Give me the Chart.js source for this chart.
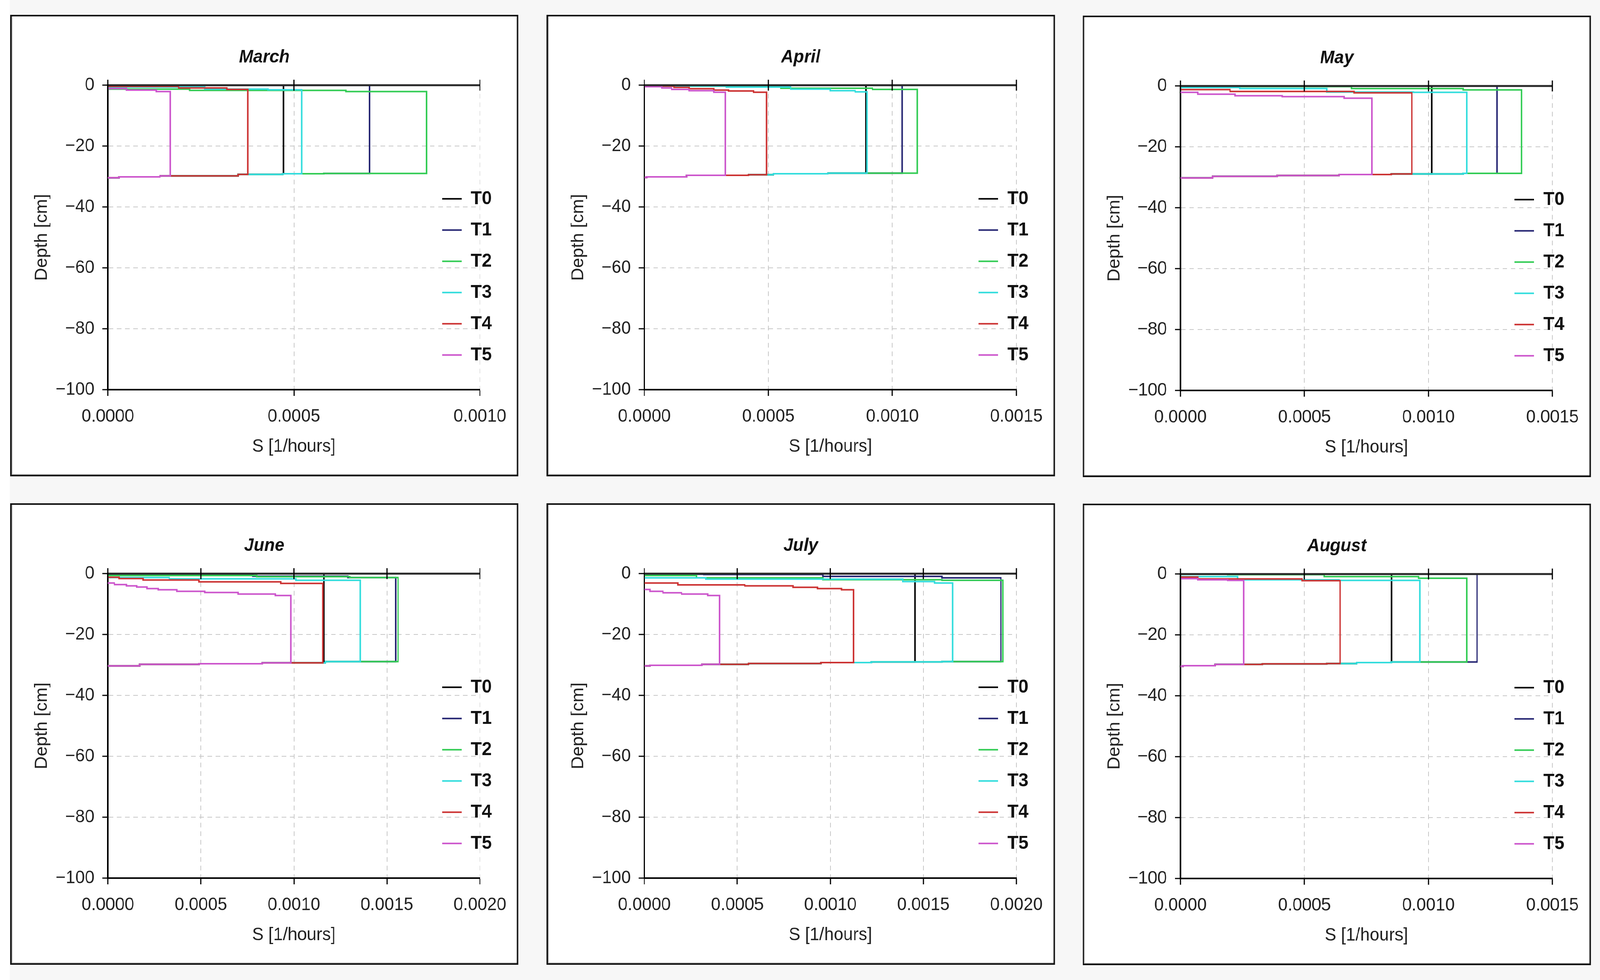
<!DOCTYPE html>
<html>
<head>
<meta charset="utf-8">
<script src="https://cdn.jsdelivr.net/npm/chart.js@4.4.1/dist/chart.umd.min.js"></script>
<style>
  html, body { margin: 0; padding: 0; overflow: hidden; background: #f7f7f7; }
  #page { position: relative; width: 4271px; height: 2510px; background: #f7f7f7; transform-origin: 0 0; }
  .strip { position: absolute; left: 0; top: 0; width: 26px; height: 2510px; background: #fff; }
  .panel { position: absolute; width: 1357px; height: 1182px; background: #fff; }
  .chartbox { position: absolute; left: 0; top: 0; width: 100%; height: 100%; }
  .frame { position: absolute; left: 0; top: 0; width: 100%; height: 100%; box-sizing: border-box;
           border: 4px solid #111; box-shadow: inset 2px -2px 0 #c4c4c4; pointer-events: none; }
</style>
</head>
<body>
<div id="page"><div class="strip"></div></div>
<script>
'use strict'

const months = ['March', 'April', 'May', 'June', 'July', 'August'];
const seriesNames = ['T0', 'T1', 'T2', 'T3', 'T4', 'T5'];
const seriesColors = ['#000000', '#262673', '#33cc55', '#33dddd', '#cc3333', '#cc55cc'];
const xMaxByMonth = [0.0010, 0.0015, 0.0015, 0.0020, 0.0020, 0.0015];
const xStep = 0.0005;
const yStep = 20;

// S at the lower edge of the root zone, per series
const marchS = [0.000472, 0.000703, 0.000857, 0.000521, 0.000376, 0.000168];
const aprilS = [0.000894, 0.00104, 0.0011, 0.000898, 0.000493, 0.000326];
const mayS = [0.001014, 0.001277, 0.001375, 0.001154, 0.000933, 0.000772];
const juneS = [0.001161, 0.001547, 0.00156, 0.001356, 0.001155, 0.000984];
const julyS = [0.001455, 0.001917, 0.001928, 0.001657, 0.001124, 0.000405];
const augustS = [0.000851, 0.001196, 0.001154, 0.000965, 0.000644, 0.000255];

// upper edge: [S, depth] steps from the surface outwards
const marchTop = [
	[[0, 0]],
	[[0, 0]],
	[[0, -1.3], [0.00022, -1.7], [0.00064, -2.1]],
	[[0, -0.6], [0.00026, -1.3], [0.00043, -1.5]],
	[[0, -0.4], [0.00019, -0.9], [0.00032, -1.4]],
	[[0, -1.1], [0.00005, -1.6], [0.00013, -2.1]],
];
const aprilTop = [
	[[0, 0]],
	[[0, 0]],
	[[0, -0.3], [0.00055, -1.0], [0.00092, -1.4]],
	[[0, -0.3], [0.00033, -0.6], [0.00059, -1.3], [0.00075, -1.8], [0.00085, -2.2]],
	[[0, -0.3], [0.00012, -0.7], [0.00018, -1.15], [0.00028, -1.6], [0.00034, -1.9], [0.00044, -2.3]],
	[[0, -0.5], [0.00007, -0.9], [0.00011, -1.4], [0.00018, -1.8], [0.00028, -2.3]],
];
const mayTop = [
	[[0, 0]],
	[[0, 0]],
	[[0, -0.2], [0.00069, -0.85], [0.00114, -1.3]],
	[[0, -0.5], [0.00024, -0.85], [0.00059, -2.0], [0.00094, -2.1]],
	[[0, -1.2], [0.0002, -1.8], [0.0007, -2.25]],
	[[0, -2.1], [0.00007, -2.7], [0.00022, -3.2], [0.00041, -3.5], [0.00066, -4.0]],
];
const juneTop = [
	[[0, 0]],
	[[0, -0.1], [0.00025, -0.2], [0.00078, -0.85], [0.00129, -1.3]],
	[[0, -0.6], [0.0008, -1.0], [0.0013, -1.3]],
	[[0, -1.3], [0.00033, -1.7], [0.00101, -2.2]],
	[[0, -1.2], [0.00006, -1.6], [0.00019, -2.1], [0.00049, -2.7], [0.00093, -3.2]],
	[[0, -3.1], [0.000035, -3.6], [0.0001, -4.0], [0.000155, -4.4], [0.00021, -4.9], [0.00027, -5.3],
	 [0.00037, -5.8], [0.00052, -6.2], [0.0007, -6.7], [0.0009, -7.2]],
];
const julyTop = [
	[[0, 0]],
	[[0, -0.2], [0.00032, -0.3], [0.00096, -0.9], [0.0016, -1.4]],
	[[0, -0.6], [0.00028, -1.4], [0.00096, -2.0], [0.0016, -2.2]],
	[[0, -1.4], [0.00033, -1.8], [0.00139, -2.6], [0.00156, -3.1]],
	[[0, -3.1], [0.00018, -3.7], [0.00054, -4.0], [0.0008, -4.5], [0.00093, -4.9], [0.00106, -5.3]],
	[[0, -5.2], [0.00003, -5.8], [0.0001, -6.3], [0.0002, -6.7], [0.00034, -7.2]],
];
const augustTop = [
	[[0, 0]],
	[[0, 0]],
	[[0, -0.1], [0.00019, -0.2], [0.00058, -0.85], [0.00096, -1.4]],
	[[0, -0.85], [0.00023, -1.9], [0.00064, -2.1]],
	[[0, -1.0], [0.00007, -1.6], [0.00049, -2.2]],
	[[0, -1.5], [0.00007, -1.9], [0.00019, -2.1]],
];

// lower edge shared by all series: [S, depth] steps going back to the axis
const marchBase = [[0.0010, -29.0], [0.00058, -29.1], [0.00047, -29.3], [0.00035, -29.8], [0.00014, -30.1], [0.00003, -30.4]];
const aprilBase = [[0.0015, -28.9], [0.00074, -29.1], [0.00052, -29.4], [0.00042, -29.6], [0.00017, -30.1], [0.00001, -30.3]];
const mayBase = [[0.0015, -28.7], [0.00114, -28.9], [0.00085, -29.1], [0.00064, -29.4], [0.00039, -29.7], [0.00013, -30.2]];
const juneBase = [[0.0020, -28.9], [0.00117, -29.3], [0.00083, -29.6], [0.00049, -29.8], [0.00017, -30.3]];
const julyBase = [[0.0020, -28.9], [0.0016, -29.0], [0.00122, -29.2], [0.00095, -29.5], [0.00056, -29.8], [0.00031, -30.1], [0.00003, -30.3]];
const augustBase = [[0.0015, -28.9], [0.00085, -29.1], [0.00071, -29.4], [0.00059, -29.5], [0.00033, -29.7], [0.00014, -30.1], [0.00001, -30.3]];

const monthS = [marchS, aprilS, mayS, juneS, julyS, augustS];
const monthTop = [marchTop, aprilTop, mayTop, juneTop, julyTop, augustTop];
const monthBase = [marchBase, aprilBase, mayBase, juneBase, julyBase, augustBase];

const panelLeft = [27, 1459, 2890, 27, 1459, 2890];
const panelTop = [38, 38, 40, 1289, 1289, 1290];

const FONT = "'Liberation Sans', Arial, sans-serif";
Chart.defaults.font.family = FONT;
Chart.defaults.color = '#222';

// the page is laid out at 4271 px; squeeze it into the window if that is narrower
const page = document.getElementById('page');
const fitX = Math.min(1, window.innerWidth / 4271);
page.style.transform = 'scaleX(' + fitX + ')';

function profile(top, s, base) {
	let pts = top.slice();
	pts.push([s, top[top.length - 1][1]]);
	let d = base[0][1];
	for (const b of base) if (b[0] >= s) d = b[1];
	pts.push([s, d]);
	for (const b of base) if (b[0] < s) pts.push(b);
	pts.push([0, pts[pts.length - 1][1]]);
	return pts.map(p => ({ x: p[0], y: p[1] }));
}

// black line along the surface with ticks crossing it
const zeroLine = {
	id: 'zeroLine',
	afterDatasetsDraw(chart) {
		const { ctx, chartArea, scales } = chart;
		const y0 = scales.y.getPixelForValue(0);
		ctx.save();
		ctx.strokeStyle = '#2a2a2a';
		ctx.lineWidth = 5;
		ctx.beginPath();
		ctx.moveTo(chartArea.left, y0);
		ctx.lineTo(chartArea.right, y0);
		ctx.stroke();
		ctx.strokeStyle = '#000';
		ctx.lineWidth = 3;
		scales.x.ticks.forEach(t => {
			const px = scales.x.getPixelForValue(t.value);
			ctx.beginPath();
			ctx.moveTo(px, y0 - 14);
			ctx.lineTo(px, y0 + 14);
			ctx.stroke();
		});
		ctx.restore();
	}
};

const insideLegend = {
	id: 'insideLegend',
	afterDraw(chart) {
		const { ctx, chartArea } = chart;
		ctx.save();
		ctx.font = 'bold 48px ' + FONT;
		ctx.textBaseline = 'middle';
		ctx.textAlign = 'left';
		chart.data.datasets.forEach((ds, i) => {
			const y = chartArea.top + 291 + i * 80;
			ctx.strokeStyle = ds.borderColor;
			ctx.lineWidth = 4;
			ctx.beginPath();
			ctx.moveTo(chartArea.right - 101, y);
			ctx.lineTo(chartArea.right - 49, y);
			ctx.stroke();
			ctx.fillStyle = '#111';
			ctx.fillText(ds.label, chartArea.right - 24, y + 1);
		});
		ctx.restore();
	}
};

let charts = [];

months.forEach((month, k) => {
	let panel = document.createElement('div');
	panel.className = 'panel';
	panel.style.left = panelLeft[k] + 'px';
	panel.style.top = panelTop[k] + 'px';
	let box = document.createElement('div');
	box.className = 'chartbox';
	let canvas = document.createElement('canvas');
	box.appendChild(canvas);
	panel.appendChild(box);
	let frame = document.createElement('div');
	frame.className = 'frame';
	panel.appendChild(frame);
	page.appendChild(panel);

	const datasets = seriesNames.map((name, i) => ({
		label: name,
		data: profile(monthTop[k][i], monthS[k][i], monthBase[k]),
		showLine: true,
		stepped: 'before',
		borderColor: seriesColors[i],
		borderWidth: 4,
		pointRadius: 0,
		pointHoverRadius: 0,
		fill: false,
		order: seriesNames.length - i,
	}));

	let chart = new Chart(canvas, {
		type: 'scatter',
		data: { datasets: datasets },
		options: {
			responsive: true,
			maintainAspectRatio: false,
			animation: false,
			events: [],
			layout: { padding: 0 },
			plugins: {
				legend: { display: false },
				tooltip: { enabled: false },
				title: {
					display: true,
					text: month,
					color: '#111',
					font: { size: 46, weight: 'bold', style: 'italic', lineHeight: 1.2 },
					padding: { top: 82, bottom: 43 },
				},
			},
			scales: {
				x: {
					type: 'linear',
					min: 0,
					max: xMaxByMonth[k],
					afterFit: s => { s.height = 222; },
					ticks: {
						stepSize: xStep,
						autoSkip: false,
						maxRotation: 0,
						padding: 26,
						font: { size: 46 },
						color: '#222',
						callback: v => Number(v).toFixed(4),
					},
					grid: {
						color: c => (c.tick && c.tick.value === 0) ? 'rgba(0,0,0,0)' : '#c8c8c8',
						lineWidth: 2,
						tickColor: '#000',
						tickWidth: 3,
						tickLength: 16,
						tickBorderDash: [],
					},
					border: { color: '#000', width: 4, dash: [12, 10] },
					title: {
						display: true,
						text: 'S [1/hours]',
						color: '#222',
						font: { size: 46, lineHeight: 1.2 },
						padding: { top: 0, bottom: 48 },
					},
				},
				y: {
					type: 'linear',
					min: -100,
					max: 0,
					afterFit: s => { s.width = 261; },
					ticks: {
						stepSize: yStep,
						padding: 21,
						font: { size: 46 },
						color: '#222',
						callback: v => v === 0 ? '0' : '\u2212' + Math.abs(v),
					},
					grid: {
						color: c => (c.tick && (c.tick.value === 0 || c.tick.value === -100)) ? 'rgba(0,0,0,0)' : '#c8c8c8',
						lineWidth: 2,
						tickColor: '#000',
						tickWidth: 3,
						tickLength: 15,
						tickBorderDash: [],
					},
					border: { color: '#000', width: 4, dash: [12, 10] },
					title: {
						display: true,
						text: 'Depth [cm]',
						color: '#222',
						font: { size: 46, lineHeight: 1.2 },
						padding: { top: 58, bottom: 0 },
					},
				},
				// empty strip on the right, keeps the title centred on the panel
				yRight: {
					type: 'linear',
					position: 'right',
					min: -100,
					max: 0,
					afterFit: s => { s.width = 103; },
					ticks: { display: false },
					grid: { display: false, drawTicks: false },
					border: { display: false },
				},
			},
		},
		plugins: [zeroLine, insideLegend],
	});

	charts.push(chart);
});
</script>
</body>
</html>
